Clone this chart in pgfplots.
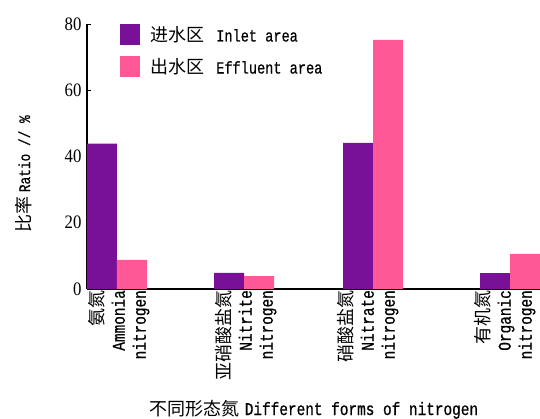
\documentclass[border=0pt]{standalone}
\usepackage{pgfplots}
\pgfplotsset{compat=1.18}
\usepackage{fontspec}
\setmainfont{Liberation Serif}
\newfontfamily\numfont[FakeStretch=0.88]{Liberation Serif}
\newfontfamily\cjk{Noto Sans CJK SC}
\newfontfamily\lmono[FakeStretch=0.8,FakeBold=0.6]{Liberation Mono}
\definecolor{inlet}{RGB}{120,16,152}
\definecolor{effl}{RGB}{255,88,150}
\newcommand{\zh}[1]{{\cjk\fontsize{18}{18}\selectfont #1}}
\begin{document}
\begin{tikzpicture}
\begin{axis}[
  at={(0,0)}, anchor=south west,
  scale only axis, width=453pt, height=265pt,
  xmin=0, xmax=453, ymin=0, ymax=80,
  axis x line=bottom, axis y line=left,
  axis line style={-, line width=1.2pt},
  ybar, bar width=30,
  ytick={0,20,40,60,80},
  tick align=inside, major tick length=4pt,
  tick style={line width=0.8pt, black},
  xtick={32,159,281,418},
  xtick style={draw=none},
  xticklabels={
    {\zh{氨氮}\\{\lmono Ammonia}\\{\lmono nitrogen}},
    {\zh{亚硝酸盐氮}\\{\lmono Nitrite}\\{\lmono nitrogen}},
    {\zh{硝酸盐氮}\\{\lmono Nitrate}\\{\lmono nitrogen}},
    {\zh{有机氮}\\{\lmono Organic}\\{\lmono nitrogen}}},
  xticklabel style={rotate=90, anchor=east, align=right,
    font=\fontsize{18}{21}\selectfont, inner sep=1pt},
  yticklabel style={font=\numfont\fontsize{19}{19}\selectfont, xshift=-2pt},
  /pgf/number format/assume math mode=true,
  ylabel={\zh{比率}\hspace{4pt}{\lmono\fontsize{16}{17}\selectfont Ratio // \%}},
  ylabel style={at={(axis description cs:-0.141,0.435)}, anchor=center},
  xlabel={\zh{不同形态氮}\hspace{5pt}{\lmono\fontsize{18}{17}\selectfont Different forms of nitrogen}},
  xlabel style={at={(axis description cs:0.501,-0.454)}, anchor=center},
  legend image code/.code={\fill[#1,draw=none] (0pt,-10.5pt) rectangle (20pt,10.5pt);},
  legend style={at={(axis description cs:0.073,1.0)}, anchor=north west,
    draw=none, fill=none, inner sep=0pt, row sep=11pt,
    /tikz/every odd column/.append style={column sep=8pt}},
  legend cell align=left,
]
\addplot[fill=inlet, draw=none, bar shift=-15] coordinates {(30,43.9) (157,4.9) (286,44.1) (423,4.8)};
\addplot[fill=effl, draw=none, bar shift=15] coordinates {(30,8.8) (157,3.9) (286,75.2) (423,10.6)};
\legend{{\zh{进水区}\hspace{12pt}{\lmono\fontsize{17}{17}\selectfont Inlet area}},{\zh{出水区}\hspace{12pt}{\lmono\fontsize{17}{17}\selectfont Effluent area}}}
\end{axis}
\pgfresetboundingbox
\useasboundingbox (-87pt,-130pt) rectangle (453pt,289pt);
\end{tikzpicture}
\end{document}
